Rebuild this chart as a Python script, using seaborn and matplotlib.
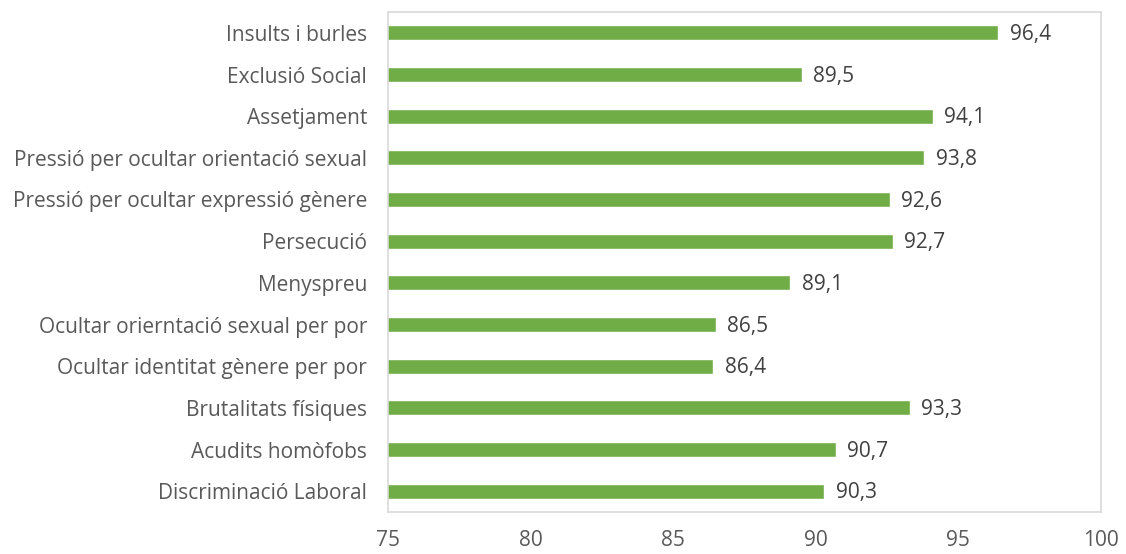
import matplotlib
matplotlib.use("Agg")
import matplotlib.pyplot as plt
import pandas as pd
import seaborn as sns

categories = [
    "Insults i burles",
    "Exclusió Social",
    "Assetjament",
    "Pressió per ocultar orientació sexual",
    "Pressió per ocultar expressió gènere",
    "Persecució",
    "Menyspreu",
    "Ocultar orierntació sexual per por",
    "Ocultar identitat gènere per por",
    "Brutalitats físiques",
    "Acudits homòfobs",
    "Discriminació Laboral",
]
values = [96.4, 89.5, 94.1, 93.8, 92.6, 92.7, 89.1, 86.5, 86.4, 93.3, 90.7, 90.3]
xticks = [75, 80, 85, 90, 95, 100]

sns.set_theme(style="white")
plt.rcParams["font.family"] = ["Open Sans", "DejaVu Sans"]
text_color = "#595959"

df = pd.DataFrame({"cat": categories, "val": values})

fig = plt.figure(figsize=(11.26, 5.54), dpi=100)
ax = fig.add_axes([388 / 1126, 1 - 512 / 554, (1101 - 388) / 1126, 500 / 554])
sns.barplot(data=df, y="cat", x="val", orient="h", color="#70AD47",
            saturation=1, width=0.36, ax=ax)

ax.set_xlim(75, 100)
ax.set_xticks(xticks)
ax.set_xticklabels([str(t) for t in xticks], fontsize=15, color=text_color)
ax.tick_params(axis="x", length=0, pad=13)
ax.tick_params(axis="y", length=0, pad=15, labelsize=15, labelcolor=text_color)
ax.set_xlabel("")
ax.set_ylabel("")
for s in ax.spines.values():
    s.set_color("#D9D9D9")
    s.set_linewidth(1.2)

# data labels, decimal comma
for i, v in enumerate(values):
    ax.text(v + 0.4, i + 0.04, f"{v:.1f}".replace(".", ","), va="center",
            ha="left", fontsize=15, color="#404040")

fig.savefig("out.png", dpi=100)
